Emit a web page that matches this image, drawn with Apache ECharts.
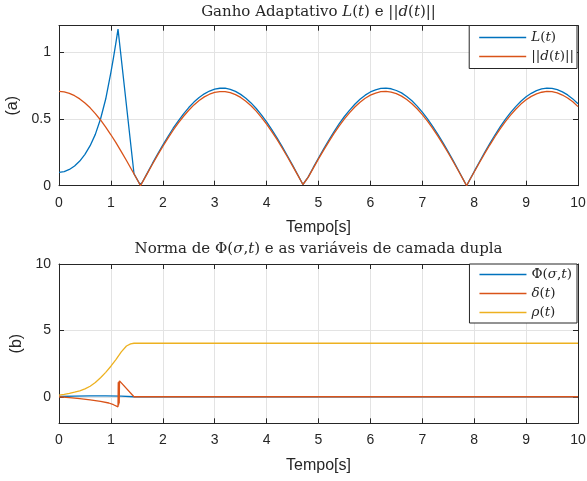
<!DOCTYPE html>
<html>
<head>
<meta charset="utf-8">
<script src="https://cdn.jsdelivr.net/npm/echarts@6/dist/echarts.min.js"></script>
<style>
  html, body { margin: 0; padding: 0; background: #fff; }
  #chart { width: 587px; height: 481px; }
</style>
</head>
<body>
<div id="chart"></div>
<script>
// (a) adaptive gain L(t) and disturbance norm ||d(t)||
const dTime = [0,0.1,0.2,0.3,0.4,0.5,0.6,0.7,0.8,0.9,1.0,1.1,1.2,1.3,1.4,1.5,1.571,1.6,1.7,1.8,1.9,2.0,2.1,2.2,2.3,2.4,2.5,2.6,2.7,2.8,2.9,3.0,3.1,3.2,3.3,3.4,3.5,3.6,3.7,3.8,3.9,4.0,4.1,4.2,4.3,4.4,4.5,4.6,4.7,4.712,4.8,4.9,5.0,5.1,5.2,5.3,5.4,5.5,5.6,5.7,5.8,5.9,6.0,6.1,6.2,6.3,6.4,6.5,6.6,6.7,6.8,6.9,7.0,7.1,7.2,7.3,7.4,7.5,7.6,7.7,7.8,7.854,7.9,8.0,8.1,8.2,8.3,8.4,8.5,8.6,8.7,8.8,8.9,9.0,9.1,9.2,9.3,9.4,9.5,9.6,9.7,9.8,9.9,10];
const dNorm = [0.707,0.703,0.693,0.675,0.651,0.620,0.584,0.541,0.493,0.439,0.382,0.321,0.256,0.189,0.120,0.050,0,0.021,0.091,0.161,0.229,0.294,0.357,0.416,0.471,0.521,0.566,0.606,0.639,0.666,0.686,0.700,0.706,0.706,0.698,0.683,0.662,0.634,0.600,0.559,0.513,0.462,0.406,0.347,0.283,0.217,0.149,0.079,0.009,0,0.062,0.132,0.201,0.267,0.331,0.392,0.449,0.501,0.548,0.590,0.626,0.656,0.679,0.695,0.705,0.707,0.702,0.690,0.672,0.646,0.615,0.577,0.533,0.484,0.430,0.372,0.310,0.245,0.178,0.108,0.038,0,0.033,0.103,0.172,0.240,0.305,0.367,0.426,0.480,0.529,0.573,0.612,0.644,0.670,0.689,0.701,0.707,0.705,0.696,0.680,0.658,0.629,0.593];

const lTime = [0,0.1,0.2,0.3,0.4,0.5,0.6,0.7,0.8,0.9,1.0,1.05,1.1,1.137,1.445,1.56,1.575,1.6,1.7,1.8,1.9,2.0,2.1,2.2,2.3,2.4,2.5,2.6,2.7,2.8,2.9,3.0,3.1,3.2,3.3,3.4,3.5,3.6,3.7,3.8,3.9,4.0,4.1,4.2,4.3,4.4,4.5,4.6,4.7,4.712,4.8,4.9,5.0,5.1,5.2,5.3,5.4,5.5,5.6,5.7,5.8,5.9,6.0,6.1,6.2,6.3,6.4,6.5,6.6,6.7,6.8,6.9,7.0,7.1,7.2,7.3,7.4,7.5,7.6,7.7,7.8,7.854,7.9,8.0,8.1,8.2,8.3,8.4,8.5,8.6,8.7,8.8,8.9,9.0,9.1,9.2,9.3,9.4,9.5,9.6,9.7,9.8,9.9,10];
const lGain = [0.100,0.106,0.122,0.148,0.185,0.235,0.300,0.385,0.500,0.650,0.850,0.960,1.080,1.175,0.090,0.010,0.000,0.022,0.094,0.167,0.237,0.304,0.369,0.431,0.487,0.539,0.586,0.627,0.661,0.689,0.710,0.725,0.731,0.731,0.722,0.707,0.685,0.656,0.621,0.579,0.531,0.478,0.420,0.359,0.293,0.225,0.154,0.082,0.009,0,0.064,0.137,0.208,0.276,0.343,0.406,0.465,0.519,0.567,0.611,0.648,0.679,0.703,0.719,0.730,0.732,0.727,0.714,0.696,0.669,0.637,0.597,0.552,0.501,0.445,0.385,0.321,0.254,0.184,0.112,0.039,0,0.034,0.107,0.178,0.248,0.316,0.380,0.441,0.497,0.548,0.593,0.633,0.667,0.693,0.713,0.726,0.732,0.730,0.720,0.704,0.681,0.651,0.614];

// (b) norm of Φ(σ,t) and the boundary-layer variables δ(t), ρ(t)
const phiTime = [0,0.3,0.6,0.9,1.2,1.44,10];
const phiNorm = [0.02,0.05,0.06,0.06,0.05,0,0];

const deltaTime = [0,0.2,0.4,0.6,0.8,0.96,1.05,1.137,1.142,1.148,1.154,1.16,1.166,1.172,1.445,10];
const deltaVals = [0,-0.06,-0.14,-0.24,-0.35,-0.47,-0.6,-0.76,1.1,-0.65,1.15,-0.5,1.2,1.07,0,0];

const rhoTime = [0,0.1,0.2,0.3,0.4,0.5,0.6,0.7,0.8,0.9,1.0,1.1,1.2,1.3,1.38,1.445,10];
const rhoVals = [0.12,0.18,0.25,0.34,0.45,0.59,0.79,1.07,1.43,1.84,2.3,2.82,3.38,3.82,3.98,4.03,4.03];

const yTicksA = [0, 0.5, 1];
const yTicksB = [0, 5, 10];

const C_BLUE = '#0072BD', C_ORANGE = '#D95319', C_YELLOW = '#EDB120';
const AX = '#262626', GRID = '#e3e3e3';
const SANS = 'Liberation Sans', SERIF = 'DejaVu Serif';

const zip = (xs, ys) => xs.map((x, i) => [x, ys[i]]);

const mathRich = {
  i: { fontStyle: 'italic', fontFamily: SERIF, fontSize: 15, color: AX }
};
const legendRich = {
  i: { fontStyle: 'italic', fontFamily: SERIF, fontSize: 13.5, color: AX }
};

function xAxisFor(gridIndex, bottom) {
  return {
    type: 'value', gridIndex, position: bottom ? 'bottom' : 'top',
    min: 0, max: 10, interval: 1,
    axisLine: { show: true, onZero: false, lineStyle: { color: AX, width: 1 } },
    axisTick: { show: true, inside: true, length: 5, lineStyle: { color: AX } },
    axisLabel: bottom ? {
      show: true, color: AX, fontFamily: SANS, fontSize: 14, margin: 10,
      alignMinLabel: 'center', alignMaxLabel: 'center', hideOverlap: false
    } : { show: false },
    splitLine: bottom ? { show: true, lineStyle: { color: GRID, width: 1 } } : { show: false },
    name: bottom ? 'Tempo[s]' : '',
    nameLocation: 'middle', nameGap: 34,
    nameTextStyle: { color: AX, fontFamily: SANS, fontSize: 16 }
  };
}

function yAxisFor(gridIndex, left, min, max, ticks, label, gap) {
  return {
    type: 'value', gridIndex, position: left ? 'left' : 'right',
    min, max,
    axisLine: { show: true, onZero: false, lineStyle: { color: AX, width: 1 } },
    axisTick: { show: true, inside: true, length: 5, customValues: ticks, lineStyle: { color: AX } },
    axisLabel: left ? { show: true, customValues: ticks, color: AX, fontFamily: SANS, fontSize: 14, margin: 8 } : { show: false },
    splitLine: left ? { show: true, lineStyle: { color: GRID, width: 1 } } : { show: false },
    name: left ? label : '',
    nameLocation: 'middle', nameGap: gap,
    nameTextStyle: { color: AX, fontFamily: SANS, fontSize: 16 }
  };
}

function lineSeries(name, xs, ys, color, xi, yi) {
  return {
    name, type: 'line', xAxisIndex: xi, yAxisIndex: yi,
    data: zip(xs, ys), symbol: 'none', showSymbol: false,
    lineStyle: { color, width: 1.3 }, itemStyle: { color },
    clip: true, animation: false
  };
}

const legendNames = {
  'L(t)': '{i|L}({i|t})',
  '||d(t)||': '||{i|d}({i|t})||',
  'Φ(σ,t)': 'Φ({i|σ},{i|t})',
  'δ(t)': '{i|δ}({i|t})',
  'ρ(t)': '{i|ρ}({i|t})'
};

function legendBox(names, top, padTop, padRight) {
  return {
    data: names, orient: 'vertical', right: 10, top,
    align: 'left', icon: 'rect', itemWidth: 47, itemHeight: 1.5,
    itemGap: 5, padding: [padTop, padRight, padTop, 10],
    borderColor: AX, borderWidth: 1, borderRadius: 0, backgroundColor: '#fff',
    formatter: n => legendNames[n],
    textStyle: { fontFamily: SERIF, fontSize: 13.5, color: AX, rich: legendRich },
    selectedMode: false
  };
}

const option = {
  backgroundColor: '#fff',
  animation: false,
  title: [
    {
      text: 'Ganho Adaptativo {i|L}({i|t}) e ||{i|d}({i|t})||',
      left: 318.5, top: 4.5, textAlign: 'center', padding: 0,
      textStyle: { fontFamily: SERIF, fontSize: 15, fontWeight: 'normal', color: AX, rich: mathRich }
    },
    {
      text: 'Norma de Φ({i|σ},{i|t}) e as variáveis de camada dupla',
      left: 318.5, top: 242, textAlign: 'center', padding: 0,
      textStyle: { fontFamily: SERIF, fontSize: 15, fontWeight: 'normal', color: AX, rich: mathRich }
    }
  ],
  grid: [
    { left: 59, right: 9, top: 25.7, height: 160, containLabel: false, outerBoundsMode: 'none' },
    { left: 59, right: 9, top: 264, height: 159.3, containLabel: false, outerBoundsMode: 'none' }
  ],
  xAxis: [xAxisFor(0, true), xAxisFor(0, false), xAxisFor(1, true), xAxisFor(1, false)],
  yAxis: [
    yAxisFor(0, true, 0, 1.2, yTicksA, '(a)', 33),
    yAxisFor(0, false, 0, 1.2, yTicksA, '', 0),
    yAxisFor(1, true, -2, 10, yTicksB, '(b)', 29),
    yAxisFor(1, false, -2, 10, yTicksB, '', 0)
  ],
  legend: [
    legendBox(['L(t)', '||d(t)||'], 25.5, 5, 3),
    legendBox(['Φ(σ,t)', 'δ(t)', 'ρ(t)'], 264, 3.5, 5)
  ],
  series: [
    lineSeries('L(t)', lTime, lGain, C_BLUE, 0, 0),
    lineSeries('||d(t)||', dTime, dNorm, C_ORANGE, 0, 0),
    lineSeries('Φ(σ,t)', phiTime, phiNorm, C_BLUE, 2, 2),
    lineSeries('δ(t)', deltaTime, deltaVals, C_ORANGE, 2, 2),
    lineSeries('ρ(t)', rhoTime, rhoVals, C_YELLOW, 2, 2)
  ]
};

const chart = echarts.init(document.getElementById('chart'), null, { renderer: 'canvas' });
chart.setOption(option);
</script>
</body>
</html>
